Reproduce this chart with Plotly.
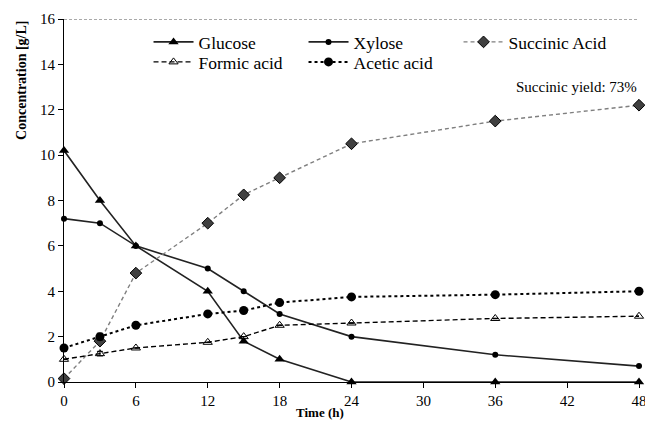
import plotly.graph_objects as go

time_h = [0, 3, 6, 12, 15, 18, 24, 36, 48]
glucose = [10.2, 8.0, 6.0, 4.0, 1.8, 1.0, 0, 0, 0]
xylose = [7.2, 7.0, 6.0, 5.0, 4.0, 3.0, 2.0, 1.2, 0.7]
succinic = [0.15, 1.8, 4.8, 7.0, 8.25, 9.0, 10.5, 11.5, 12.2]
formic = [1.0, 1.25, 1.5, 1.75, 2.0, 2.5, 2.6, 2.8, 2.9]
acetic = [1.5, 2.0, 2.5, 3.0, 3.15, 3.5, 3.75, 3.85, 4.0]
acetic_err = [0, 0.15, 0, 0, 0, 0, 0, 0, 0]
formic_err = [0, 0.1, 0, 0, 0, 0, 0, 0, 0]
x_ticks = [0, 6, 12, 18, 24, 30, 36, 42, 48]
y_ticks = [0, 2, 4, 6, 8, 10, 12, 14, 16]

FONT = "Liberation Serif"

fig = go.Figure()
fig.add_trace(go.Scatter(
    x=time_h, y=glucose, name="Glucose", mode="lines+markers", legend="legend",
    line=dict(color="#222222", width=1.6),
    marker=dict(symbol="triangle-up", size=9, color="#000000"),
    cliponaxis=False))
fig.add_trace(go.Scatter(
    x=time_h, y=xylose, name="Xylose", mode="lines+markers", legend="legend",
    line=dict(color="#222222", width=1.6),
    marker=dict(symbol="circle", size=6, color="#000000"),
    cliponaxis=False))
fig.add_trace(go.Scatter(
    x=time_h, y=succinic, name="Succinic Acid", mode="lines+markers", legend="legend",
    line=dict(color="#7f7f7f", width=1.4, dash="4px,3px"),
    marker=dict(symbol="diamond", size=9, color="#404040",
                line=dict(color="#000000", width=1)),
    cliponaxis=False))
fig.add_trace(go.Scatter(
    x=time_h, y=formic, name="Formic acid", mode="lines+markers", legend="legend2",
    line=dict(color="#000000", width=1.4, dash="5px,3px"),
    marker=dict(symbol="triangle-up-open", size=8, color="#000000",
                line=dict(width=1)),
    error_y=dict(type="data", array=formic_err, color="#000000",
                 thickness=1, width=3, visible=True),
    cliponaxis=False))
fig.add_trace(go.Scatter(
    x=time_h, y=acetic, name="Acetic acid", mode="lines+markers", legend="legend2",
    line=dict(color="#000000", width=2, dash="dot"),
    marker=dict(symbol="circle", size=9, color="#000000"),
    error_y=dict(type="data", array=acetic_err, color="#000000",
                 thickness=1, width=3, visible=True),
    cliponaxis=False))

fig.add_shape(type="line", xref="paper", yref="y", x0=0, x1=1, y0=16, y1=16,
              line=dict(color="#555555", width=1, dash="3px,2px"))

fig.add_annotation(text="Succinic yield: 73%", xref="paper", yref="y",
                   x=1.0, y=13.0, xanchor="right", yanchor="middle",
                   showarrow=False, font=dict(family=FONT, size=15, color="#000000"))
fig.add_annotation(text="<b>Time (h)</b>", xref="paper", yref="paper",
                   x=(320 - 64) / 575, y=-0.083, xanchor="center", yanchor="middle",
                   showarrow=False, font=dict(family=FONT, size=13, color="#000000"))
fig.add_annotation(text="<b>Concentration [g/L]</b>", xref="paper", yref="paper",
                   x=-0.075, y=(382 - 80) / 363, xanchor="center", yanchor="middle",
                   textangle=-90, showarrow=False,
                   font=dict(family=FONT, size=14, color="#000000"))

legend_common = dict(orientation="h", x=0.147, xanchor="left", yanchor="middle",
                     entrywidth=100, entrywidthmode="pixels",
                     font=dict(family=FONT, size=17.5, color="#000000"),
                     bgcolor="rgba(0,0,0,0)", tracegroupgap=0, itemwidth=40)

fig.update_layout(
    width=645, height=421,
    margin=dict(l=64, r=6, t=19, b=39, autoexpand=False),
    paper_bgcolor="white", plot_bgcolor="white",
    font=dict(family=FONT, size=15, color="#000000"),
    showlegend=True,
    legend=dict(y=(382 - 42) / 363, **legend_common),
    legend2=dict(y=(382 - 62) / 363, **legend_common),
    xaxis=dict(range=[0, 48], tickvals=x_ticks, ticks="outside", ticklen=5,
               tickcolor="#000000", showline=True, linecolor="#000000", linewidth=1,
               showgrid=False, zeroline=False, ticklabeloverflow="allow",
               automargin=False, tickfont=dict(family=FONT, size=15)),
    yaxis=dict(range=[0, 16], tickvals=y_ticks, ticks="outside", ticklen=5,
               tickcolor="#000000", showline=True, linecolor="#000000", linewidth=1,
               showgrid=False, zeroline=False, automargin=False,
               tickfont=dict(family=FONT, size=15)),
)

fig.write_html("out.html", config={"displayModeBar": False},
               post_script="document.body.style.margin='0';")
